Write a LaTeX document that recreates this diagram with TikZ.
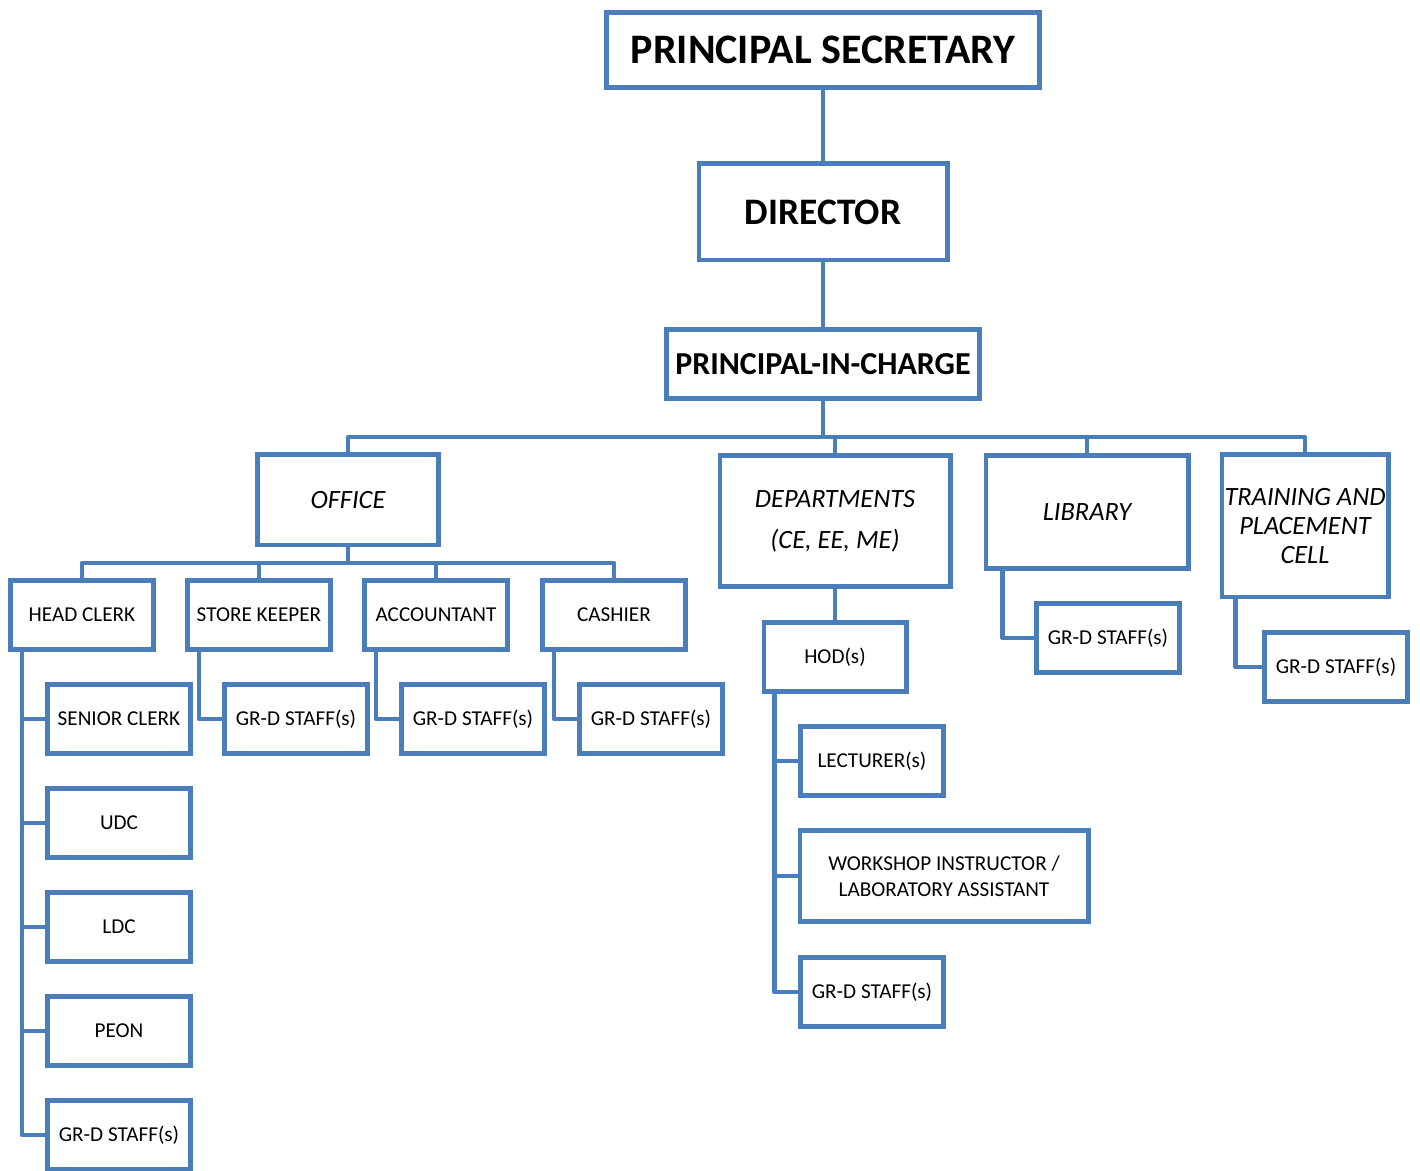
\documentclass[tikz,border=0pt]{standalone}
\usepackage{fontspec}
\setmainfont{Carlito}
\definecolor{orgblue}{RGB}{74,126,187}

\begin{document}
\begin{tikzpicture}[x=0.5pt,y=-0.5pt,
  box/.style={draw=orgblue,line width=2.4pt,fill=white,inner sep=0pt,align=center,
    minimum width=71.6pt,minimum height=34.6pt,font=\fontsize{10.6}{13}\selectfont},
  unit/.style={box,font=\fontsize{13.2}{14.5}\selectfont\itshape},
  head/.style={box,font=\fontsize{18.7}{22}\selectfont\bfseries},
  link/.style={draw=orgblue,line width=2.4pt,line join=round}]

\useasboundingbox (0,0) rectangle (1420,1171);

\node[head,minimum width=216.6pt,minimum height=37.6pt,font=\fontsize{21}{24}\selectfont\bfseries] (ps) at (823,50) {PRINCIPAL SECRETARY};
\node[head,minimum width=124.1pt,minimum height=48.1pt] (dir) at (823,212) {DIRECTOR};
\node[box,font=\fontsize{16}{19}\selectfont\bfseries,minimum width=156.6pt] (pic) at (823,364) {PRINCIPAL-IN-CHARGE};

\node[unit,minimum width=90.6pt,minimum height=45.1pt] (office) at (348,500) {OFFICE};
\node[unit,minimum width=115.1pt,minimum height=65.6pt,font=\fontsize{13.2}{20.5}\selectfont\itshape] (dept) at (835,521) {DEPARTMENTS\\(CE, EE, ME)};
\node[unit,minimum width=101.1pt,minimum height=56.6pt] (lib) at (1087,512) {LIBRARY};
\node[unit,minimum width=83.1pt,minimum height=71.1pt] (tpc) at (1305,526) {TRAINING AND\\PLACEMENT\\CELL};

\node[box] (hc) at (82,615) {HEAD CLERK};
\node[box] (sk) at (259,615) {STORE KEEPER};
\node[box] (acc) at (436,615) {ACCOUNTANT};
\node[box] (cash) at (614,615) {CASHIER};

\node[box] (sc) at (119,719) {SENIOR CLERK};
\node[box] (udc) at (119,823) {UDC};
\node[box] (ldc) at (119,927) {LDC};
\node[box] (peon) at (119,1031) {PEON};
\node[box] (hcgrd) at (119,1135) {GR-D STAFF(s)};

\node[box] (skgrd) at (296,719) {GR-D STAFF(s)};
\node[box] (accgrd) at (473,719) {GR-D STAFF(s)};
\node[box] (cashgrd) at (651,719) {GR-D STAFF(s)};

\node[box,minimum width=71.1pt] (hod) at (835,657) {HOD(s)};
\node[box] (lect) at (872,761) {LECTURER(s)};
\node[box,minimum width=144.1pt,minimum height=45.6pt] (wsi) at (944,876) {WORKSHOP INSTRUCTOR /\\LABORATORY ASSISTANT};
\node[box] (hodgrd) at (872,992) {GR-D STAFF(s)};

\node[box] (libgrd) at (1108,638) {GR-D STAFF(s)};
\node[box] (tpcgrd) at (1336,667) {GR-D STAFF(s)};

\draw[link] (ps.south) -- (dir.north);
\draw[link] (dir.south) -- (pic.north);

\coordinate (bus) at (823,437);
\draw[link] (pic.south) -- (bus);
\draw[link] (bus) -| (office.north);
\draw[link] (bus) -| (dept.north);
\draw[link] (bus) -| (lib.north);
\draw[link] (bus) -| (tpc.north);

\coordinate (obus) at (348,563);
\draw[link] (office.south) -- (obus);
\draw[link] (obus) -| (hc.north);
\draw[link] (obus) -| (sk.north);
\draw[link] (obus) -| (acc.north);
\draw[link] (obus) -| (cash.north);

\draw[link] ([xshift=7pt]hc.south west) |- (sc.west);
\draw[link] ([xshift=7pt]hc.south west) |- (udc.west);
\draw[link] ([xshift=7pt]hc.south west) |- (ldc.west);
\draw[link] ([xshift=7pt]hc.south west) |- (peon.west);
\draw[link] ([xshift=7pt]hc.south west) |- (hcgrd.west);

\draw[link] ([xshift=7pt]sk.south west) |- (skgrd.west);
\draw[link] ([xshift=7pt]acc.south west) |- (accgrd.west);
\draw[link] ([xshift=7pt]cash.south west) |- (cashgrd.west);

\draw[link] (dept.south) -- (hod.north);
\draw[link] ([xshift=6.5pt]hod.south west) |- (lect.west);
\draw[link] ([xshift=6.5pt]hod.south west) |- (wsi.west);
\draw[link] ([xshift=6.5pt]hod.south west) |- (hodgrd.west);

\draw[link] ([xshift=9.5pt]lib.south west) |- (libgrd.west);
\draw[link] ([xshift=8pt]tpc.south west) |- (tpcgrd.west);

\end{tikzpicture}
\end{document}
